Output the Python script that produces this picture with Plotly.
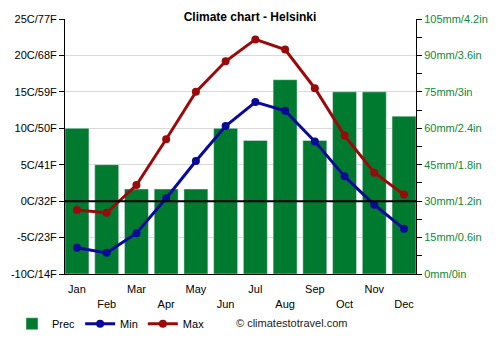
import plotly.graph_objects as go

months = ["Jan", "Feb", "Mar", "Apr", "May", "Jun", "Jul", "Aug", "Sep", "Oct", "Nov", "Dec"]
month_labels = ["Jan", "<br>Feb", "Mar", "<br>Apr", "May", "<br>Jun", "Jul", "<br>Aug", "Sep", "<br>Oct", "Nov", "<br>Dec"]
prec = [60, 45, 35, 35, 35, 60, 55, 80, 55, 75, 75, 65]
tmin = [-6.4, -7.1, -4.4, 0.4, 5.5, 10.3, 13.6, 12.4, 8.2, 3.4, -0.5, -3.8]
tmax = [-1.2, -1.6, 2.2, 8.5, 15.0, 19.2, 22.2, 20.8, 15.5, 9.0, 3.9, 0.9]
temp_ticks = [-10, -5, 0, 5, 10, 15, 20, 25]
temp_labels = ["-10C/14F", "-5C/23F", "0C/32F", "5C/41F", "10C/50F", "15C/59F", "20C/68F", "25C/77F"]
prec_ticks = [0, 15, 30, 45, 60, 75, 90, 105]
prec_labels = ["0mm/0in", "15mm/0.6in", "30mm/1.2in", "45mm/1.8in", "60mm/2.4in", "75mm/3in", "90mm/3.6in", "105mm/4.2in"]

GREEN = "#007a2f"
BLUE = "#0a0a9a"
RED = "#9b0a0a"
FONT = "Liberation Sans, Arial, sans-serif"
HALF = 0.403  # half bar width in category units

fig = go.Figure()
fig.add_trace(go.Bar(x=months, y=prec, name="Prec", marker_color=GREEN, width=2 * HALF, yaxis="y"))
fig.add_trace(go.Scatter(x=months, y=tmin, name="Min", mode="lines+markers",
                         line=dict(color=BLUE, width=3), marker=dict(size=8, color=BLUE), yaxis="y2"))
fig.add_trace(go.Scatter(x=months, y=tmax, name="Max", mode="lines+markers",
                         line=dict(color=RED, width=3), marker=dict(size=8, color=RED), yaxis="y2"))

fig.add_shape(type="line", xref="paper", x0=0, x1=1, yref="y2", y0=0, y1=0,
              line=dict(color="black", width=2), layer="above")

fig.update_layout(
    width=500, height=350,
    margin=dict(l=63, r=84, t=19, b=73),
    paper_bgcolor="white", plot_bgcolor="white",
    font=dict(family=FONT, size=11, color="black"),
    title=dict(text="<b>Climate chart - Helsinki</b>", x=0.5, xanchor="center",
               y=1 - 17/350, yanchor="middle", font=dict(size=12, family=FONT)),
    showlegend=True,
    legend=dict(orientation="h", x=-0.151, xanchor="left", y=-0.195, yanchor="middle",
                font=dict(size=11), traceorder="normal", bgcolor="rgba(0,0,0,0)"),
    xaxis=dict(type="category", tickmode="array", tickvals=months, ticktext=month_labels,
               ticks="", ticklen=5, tickangle=0, ticklabelstandoff=5,
               showgrid=False, showline=True, linecolor="black", linewidth=1,
               tickfont=dict(size=11), range=[-HALF, 11 + HALF]),
    xaxis2=dict(overlaying="x", type="linear", range=[-HALF, 11 + HALF], tickmode="linear",
                tick0=1 - HALF, dtick=1, ticks="outside", ticklen=5, tickwidth=1, tickcolor="black",
                showgrid=True, gridcolor="#d9d9d9", gridwidth=1, showticklabels=False,
                zeroline=False, showline=False, side="bottom", anchor="y"),
    yaxis=dict(side="right", range=[0, 105], tickmode="array", tickvals=prec_ticks, ticktext=prec_labels,
               ticks="outside", ticklen=5, tickcolor="black", showline=True, linecolor="black",
               showgrid=False, zeroline=False, tickfont=dict(color="#0a8a3a", size=11),
               minor=dict(tickmode="linear", tick0=0, dtick=7.5, ticks="outside", ticklen=5, tickcolor="black", showgrid=False)),
    yaxis2=dict(side="left", overlaying="y", range=[-10, 25], tickmode="array", tickvals=temp_ticks,
                ticktext=temp_labels, ticks="outside", ticklen=5, tickcolor="black", showline=True,
                linecolor="black", showgrid=True, gridcolor="#d9d9d9", zeroline=False,
                tickfont=dict(size=11)),
)

fig.add_annotation(text="© climatestotravel.com", xref="paper", yref="paper",
                   x=(232 - 63) / 352, xanchor="left", y=-50/258, yanchor="middle",
                   showarrow=False, font=dict(size=11, color="#222"))

fig.write_html("out.html")
